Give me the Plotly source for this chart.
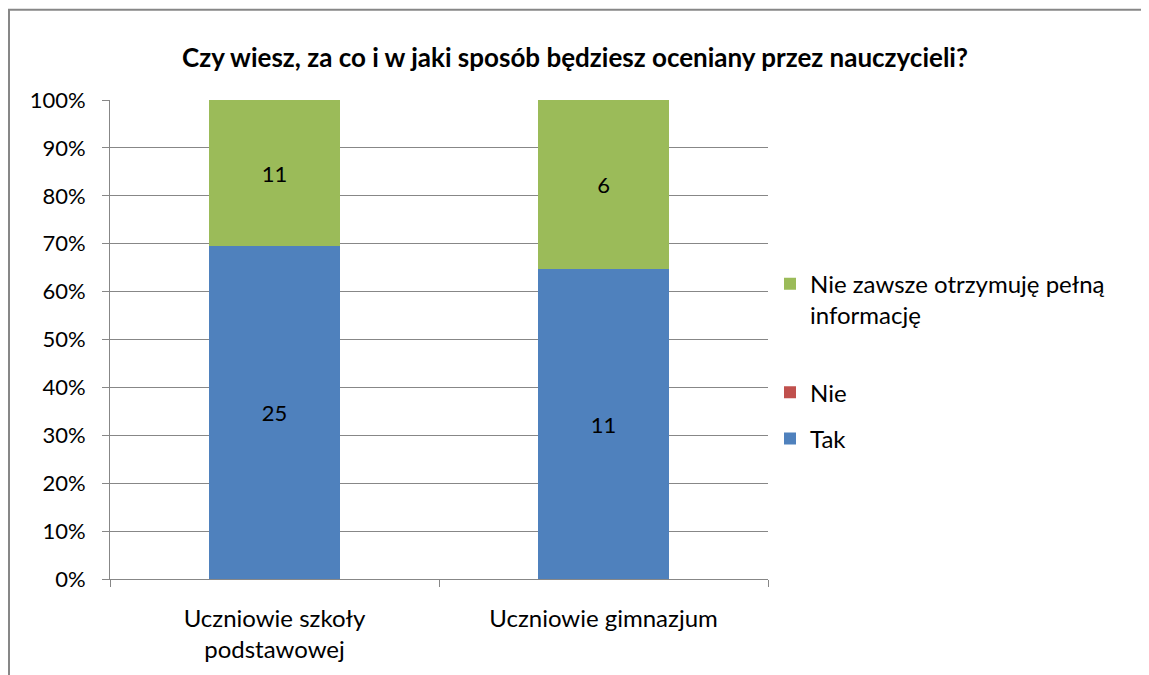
import plotly.graph_objects as go

categories = ["Uczniowie szkoły<br>podstawowej", "Uczniowie gimnazjum"]
tak = [25, 11]
nie = [0, 0]
nie_zawsze = [11, 6]
series_names = ["Tak", "Nie", "Nie zawsze otrzymuję pełną<br>informację<br>\u00a0"]
legend_ranks = [3, 2, 1]
colors = ["#4F81BD", "#C0504D", "#9BBB59"]
y_ticks = list(range(0, 101, 10))
y_tick_labels = [f"{v}%" for v in y_ticks]
title = "Czy wiesz, za co i w jaki sposób będziesz oceniany przez nauczycieli?"

FONT = "Lato"
OFF = 8  # page body margin
W, H = 1141, 667
# plot area in screen pixels
L, R, T, B = 110, 768, 100, 583
pw, ph = R - L, B - T

def px_x(x):
    return (x - L) / pw

def px_y(y):
    return (B - y) / ph

fig = go.Figure()
for name, vals, col, rank in zip(series_names, [tak, nie, nie_zawsze], colors, legend_ranks):
    fig.add_trace(go.Bar(
        x=categories, y=vals, name=name, marker=dict(color=col, line=dict(width=0)),
        text=[str(v) if v else "" for v in vals],
        textposition="inside", insidetextanchor="middle",
        textfont=dict(color="black", size=22, family=FONT),
        legendgroup=name, legendrank=rank, hoverinfo="skip",
    ))

fig.update_layout(
    barmode="stack", barnorm="percent", bargap=0.6,
    width=W, height=H,
    margin=dict(l=L - OFF, r=W - (R - OFF), t=T - OFF, b=H - (B - OFF), pad=0),
    paper_bgcolor="white", plot_bgcolor="white",
    font=dict(family=FONT, size=22, color="black"),
    title=dict(text="<b>" + title + "</b>", x=(575 - OFF) / W, xanchor="center",
               y=1 - (58 - OFF) / H, yanchor="middle", font=dict(size=26, family=FONT)),
    showlegend=True,
    legend=dict(x=px_x(770), xanchor="left", y=px_y(263), yanchor="top",
                traceorder="grouped", tracegroupgap=12, valign="top",
                font=dict(size=24, family=FONT), bgcolor="rgba(0,0,0,0)"),
)
fig.update_yaxes(
    range=[0, 100], tickvals=y_ticks, ticktext=y_tick_labels,
    showgrid=True, gridcolor="#878787", gridwidth=1,
    showline=True, linecolor="#878787", linewidth=1,
    ticks="outside", ticklen=7, tickcolor="#878787",
    ticklabelstandoff=12, zeroline=False,
    tickfont=dict(size=22, family=FONT),
)
fig.update_xaxes(
    showline=True, linecolor="#878787", linewidth=1,
    ticks="outside", ticklen=7, tickcolor="#878787", tickson="boundaries",
    showgrid=False, ticklabelstandoff=18,
    tickfont=dict(size=24, family=FONT),
)
# outer chart border (top and left visible)
fig.add_shape(type="line", xref="paper", yref="paper",
              x0=px_x(8), x1=px_x(1149 + OFF), y0=px_y(9), y1=px_y(9),
              line=dict(color="#878787", width=2))
fig.add_shape(type="line", xref="paper", yref="paper",
              x0=px_x(9), x1=px_x(9), y0=px_y(9), y1=px_y(675 + OFF),
              line=dict(color="#878787", width=2))

fig.write_html("out.html")
